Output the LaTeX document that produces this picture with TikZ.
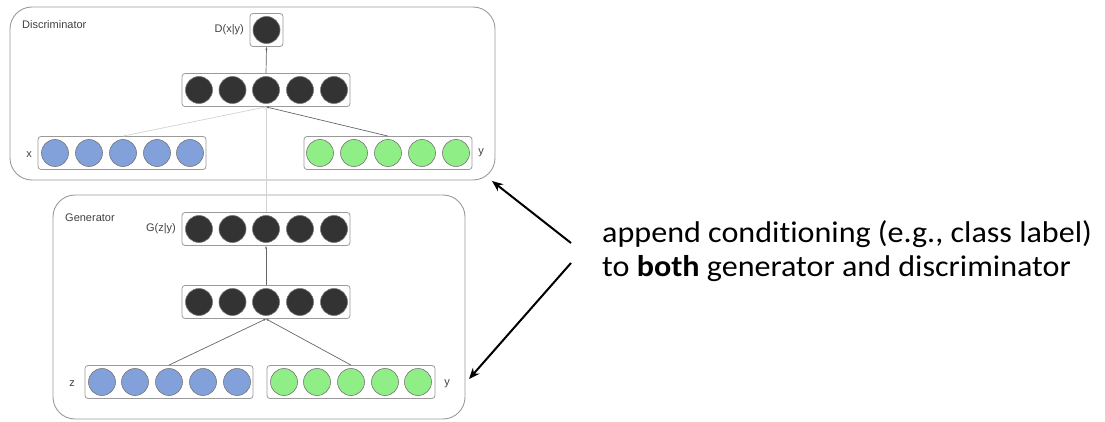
\documentclass[tikz,border=0pt]{standalone}
\usepackage{fontspec}
\setmainfont{Carlito}
\newfontfamily\annfont[FakeStretch=1.07, Ligatures={NoCommon}]{Carlito}
\newfontfamily\arialf{Liberation Sans}
\usetikzlibrary{arrows.meta}
\definecolor{boxgray}{HTML}{9A9A9A}
\definecolor{dark}{HTML}{333333}
\definecolor{bluec}{HTML}{82A0DA}
\definecolor{greenc}{HTML}{90EE86}
\definecolor{circedge}{HTML}{777777}
\tikzset{
  outerbox/.style={draw=boxgray, line width=0.9pt, rounded corners=22pt},
  layerbox/.style={draw=boxgray, line width=0.8pt, fill=white, rounded corners=3pt, minimum height=33pt, inner sep=0pt},
  neuron/.style={circle, draw=circedge, line width=0.6pt, minimum size=27pt, inner sep=0pt},
  dn/.style={neuron, fill=dark},
  bn/.style={neuron, fill=bluec},
  gn/.style={neuron, fill=greenc},
  smalllabel/.style={font=\arialf\fontsize{11}{13}\selectfont, text=black!75, inner sep=0pt},
  conn/.style={draw=gray!80!black, line width=0.7pt, -{Stealth[length=3pt,width=2pt]}},
  faintconn/.style={draw=gray!35, line width=0.7pt, -{Stealth[length=3pt,width=2pt]}},
  bigarrow/.style={draw=black, line width=2pt, -{Stealth[length=11pt,width=9pt]}}
}
\begin{document}
\begin{tikzpicture}[x=1pt,y=-1pt]
\useasboundingbox (0,0) rectangle (1105,422);
% outer boxes
\draw[outerbox] (10,7) rectangle (495,180);
\draw[outerbox] (53,195) rectangle (465,419);
\node[smalllabel, anchor=west] (dlab) at (22,25) {Discriminator};
\node[smalllabel, anchor=west] (glab) at (65,218) {Generator};

% Discriminator output
\node[layerbox, minimum width=33pt, minimum height=33pt] (dobox) at (266.5,30) {};
\node[dn] (do) at (266.5,30) {};
\node[smalllabel, anchor=east] (dolab) at (244,30) {D(x|y)};

% Discriminator hidden layer
\node[layerbox, minimum width=168pt] (dhbox) at (266,90) {};
\foreach \i/\x in {1/199,2/232.5,3/266,4/300,5/334}
  \node[dn] (dh\i) at (\x,90) {};

% x layer
\node[layerbox, minimum width=168pt] (xbox) at (122,153) {};
\foreach \i/\x in {1/55,2/89,3/123,4/157,5/190}
  \node[bn] (x\i) at (\x,153) {};
\node[smalllabel] (xlab) at (29,155) {x};

% y layer (D)
\node[layerbox, minimum width=168pt] (ydbox) at (388,153) {};
\foreach \i/\x in {1/320,2/354,3/388,4/422,5/456}
  \node[gn] (yd\i) at (\x,153) {};
\node[smalllabel] (ydlab) at (481,153) {y};

% Generator output
\node[layerbox, minimum width=168pt] (gobox) at (266,229) {};
\foreach \i/\x in {1/199,2/232.5,3/266,4/300,5/334}
  \node[dn] (go\i) at (\x,229) {};
\node[smalllabel, anchor=east] (golab) at (176,229) {G(z|y)};

% Generator hidden
\node[layerbox, minimum width=168pt] (ghbox) at (266,302) {};
\foreach \i/\x in {1/199,2/232.5,3/266,4/300,5/334}
  \node[dn] (gh\i) at (\x,302) {};

% z layer
\node[layerbox, minimum width=168pt] (zbox) at (169,382) {};
\foreach \i/\x in {1/102,2/135,3/169,4/203,5/237}
  \node[bn] (z\i) at (\x,382) {};
\node[smalllabel] (zlab) at (72,384) {z};

% y layer (G)
\node[layerbox, minimum width=168pt] (ygbox) at (351,382) {};
\foreach \i/\x in {1/284,2/317,3/351,4/385,5/418}
  \node[gn] (yg\i) at (\x,382) {};
\node[smalllabel] (yglab) at (447,384) {y};

% connectors (D)
\draw[faintconn] (x3 |- xbox.north) -- (dhbox.south);
\draw[conn] (yd3 |- ydbox.north) -- (dhbox.south);
\draw[conn] (dhbox.north) -- (dobox.south);
\draw[faintconn] (gobox.north) -- (dhbox.south);
% connectors (G)
\draw[conn] (z3 |- zbox.north) -- (ghbox.south);
\draw[conn] (yg3 |- ygbox.north) -- (ghbox.south);
\draw[conn] (ghbox.north) -- (gobox.south);

% annotation
\node[anchor=west, align=left, inner sep=0pt, font=\annfont\fontsize{30}{34}\selectfont] (ann) at (602,251.5)
  {append conditioning (e.g., class label)\\to \textbf{both} generator and discriminator};
\coordinate (a1s) at (571,243);
\coordinate (a1e) at (492,181);
\coordinate (a2s) at (571,263);
\coordinate (a2e) at (469,379);
\draw[bigarrow] (a1s) -- (a1e);
\draw[bigarrow] (a2s) -- (a2e);
\end{tikzpicture}
\end{document}
